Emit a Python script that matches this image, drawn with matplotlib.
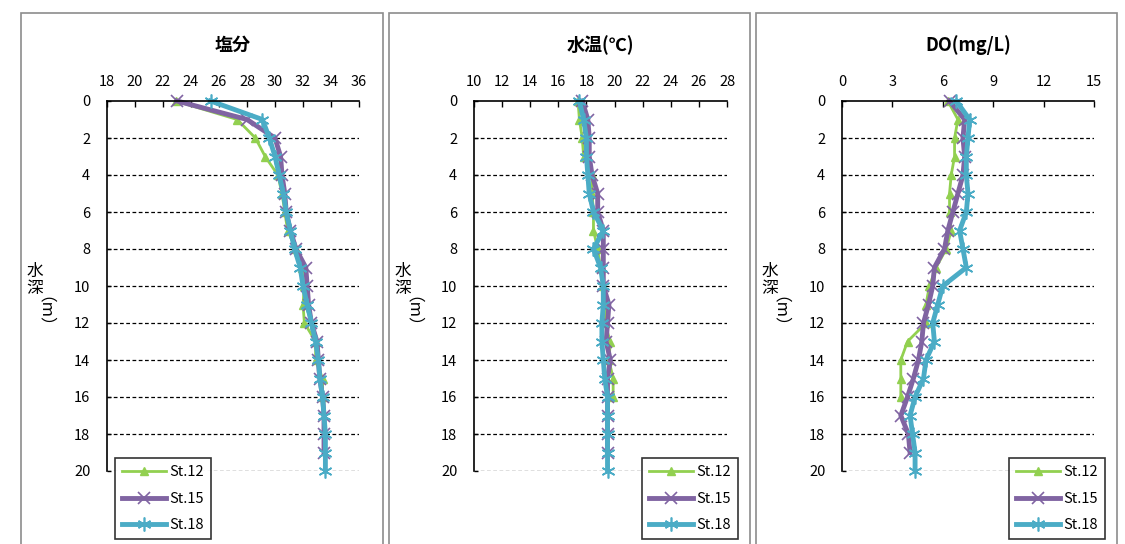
import matplotlib
matplotlib.use("Agg")
import matplotlib.pyplot as plt
from matplotlib.patches import Rectangle

plt.rcParams["font.family"] = ["Noto Sans CJK JP", "DejaVu Sans"]

# 水深 (m)
depth = list(range(0, 21))
stations = ["St.12", "St.15", "St.18"]

# 塩分
sal_st12 = [22.9, 27.3, 28.6, 29.3, 30.2, 30.5, 30.7, 30.9, 31.5, 31.9, 32.1,
            32.0, 32.1, 32.9, 32.9, 33.4, 33.4]
sal_st15 = [23.0, 28.0, 30.0, 30.4, 30.5, 30.7, 30.8, 31.1, 31.5, 32.2, 32.3,
            32.4, 32.6, 33.0, 33.1, 33.2, 33.4, 33.5, 33.5, 33.5]
sal_st18 = [25.4, 29.1, 29.6, 30.0, 30.3, 30.6, 30.8, 31.1, 31.4, 31.8, 32.0,
            32.3, 32.6, 32.9, 33.1, 33.2, 33.4, 33.5, 33.6, 33.6, 33.6]

# 水温
tmp_st12 = [17.4, 17.5, 17.7, 17.8, 18.4, 18.4, 18.5, 18.5, 18.8, 19.0, 19.2,
            19.3, 19.3, 19.7, 19.6, 19.9, 19.9]
tmp_st15 = [17.7, 18.1, 18.2, 18.2, 18.4, 18.8, 18.8, 19.2, 19.2, 19.2, 19.2,
            19.6, 19.5, 19.4, 19.7, 19.5, 19.5, 19.5, 19.5, 19.5]
tmp_st18 = [17.5, 17.8, 18.0, 18.0, 18.1, 18.2, 18.5, 19.2, 18.5, 19.0, 19.2,
            19.2, 19.1, 19.1, 19.2, 19.3, 19.5, 19.5, 19.5, 19.5, 19.5]

# DO
do_st12 = [6.3, 6.9, 6.7, 6.7, 6.5, 6.4, 6.4, 6.5, 6.2, 5.6, 5.2,
           5.0, 5.0, 3.9, 3.5, 3.5, 3.5]
do_st15 = [6.4, 7.3, 7.2, 7.3, 7.2, 6.9, 6.6, 6.3, 6.1, 5.5, 5.4,
           5.15, 4.85, 4.75, 4.55, 4.25, 3.9, 3.5, 3.95, 4.05]
do_st18 = [6.8, 7.6, 7.5, 7.4, 7.4, 7.5, 7.4, 7.0, 7.2, 7.4, 6.0,
           5.7, 5.4, 5.5, 5.0, 4.85, 4.35, 4.05, 4.2, 4.35, 4.35]

panels = [
    ("塩分", [sal_st12, sal_st15, sal_st18], (18, 36), list(range(18, 37, 2))),
    ("水温(℃)", [tmp_st12, tmp_st15, tmp_st18], (10, 28), list(range(10, 29, 2))),
    ("DO(mg/L)", [do_st12, do_st15, do_st18], (0, 15), list(range(0, 16, 3))),
]

styles = [
    dict(color="#92D050", lw=2.0, marker="^", ms=6, mew=1),
    dict(color="#8064A2", lw=3.5, marker="x", ms=8, mew=1.2),
    dict(color="#4BACC6", lw=3.5, marker=(6, 2, 0), ms=10, mew=1.2),
]

W, H = 1125, 544
fig = plt.figure(figsize=(W / 100, H / 100), dpi=100)

frames_px = [(21, 383), (389, 750), (756, 1117)]
axes_px = [(107, 359), (474, 727), (842, 1094)]
legend_px = [(115, "upper left"), (738, "upper right"), (1105, "upper right")]

for i, (title, series, xlim, xticks) in enumerate(panels):
    fx0, fx1 = frames_px[i]
    fig.patches.append(Rectangle((fx0 / W, -0.05), (fx1 - fx0) / W, 1.05 - 13 / H,
                                 transform=fig.transFigure, fill=False,
                                 edgecolor="#8c8c8c", lw=1.2))

    ax0, ax1 = axes_px[i]
    ax = fig.add_axes([ax0 / W, 1 - 471 / H, (ax1 - ax0) / W, 370 / H])
    for name, vals, st in zip(stations, series, styles):
        ax.plot(vals, depth[:len(vals)], label=name, clip_on=False, **st)

    ax.set_xlim(*xlim)
    ax.set_ylim(20, 0)
    ax.set_xticks(xticks)
    ax.set_yticks(range(0, 21, 2))
    ax.xaxis.tick_top()
    ax.tick_params(axis="x", direction="in", length=4, width=1, labelsize=10.5, pad=9)
    ax.tick_params(axis="y", direction="in", length=3, width=1, labelsize=10.5, pad=12)
    for s in ["right", "bottom"]:
        ax.spines[s].set_visible(False)
    for s in ["left", "top"]:
        ax.spines[s].set_linewidth(1.2)
    for d in range(2, 21, 2):
        ax.axhline(d, color="black", lw=0.9, ls=(0, (3, 2)), zorder=0)

    fig.text((ax0 + ax1) / 2 / W, 1 - 45 / H, title, ha="center", va="center",
             fontsize=13, fontweight="bold")

    fig.text((fx0 + 14) / W, 1 - 280 / H, "水\n深", ha="center", va="center",
             fontsize=12, linespacing=1.0)
    fig.text((fx0 + 14) / W, 1 - 320 / H, "（m）", ha="center", va="center",
             fontsize=12, rotation=-90)

    lx, loc = legend_px[i]
    leg = ax.legend(loc=loc, bbox_to_anchor=(lx / W, 1 - 458 / H),
                    bbox_transform=fig.transFigure, fontsize=10.5, frameon=True,
                    fancybox=False, edgecolor="black", handlelength=3.0,
                    handletextpad=0.2, borderpad=0.5, labelspacing=0.85,
                    borderaxespad=0)
    leg.get_frame().set_linewidth(1.2)

fig.savefig("out.png", dpi=100)
